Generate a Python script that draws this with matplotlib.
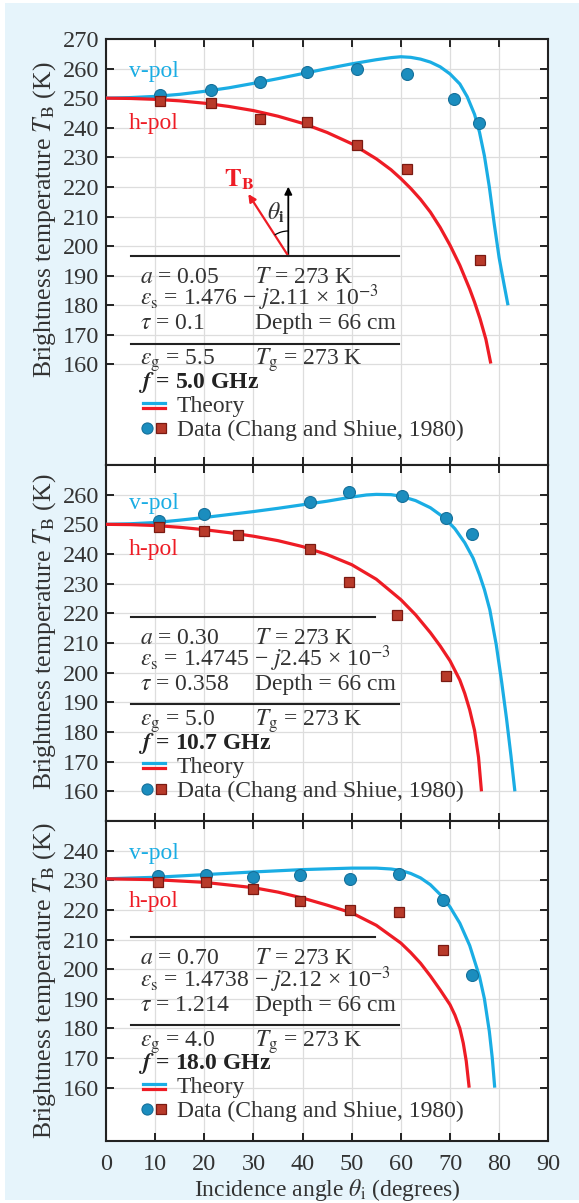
import matplotlib
matplotlib.use("Agg")
import matplotlib.pyplot as plt
from matplotlib.patches import Rectangle, Arc, FancyArrowPatch
from matplotlib.lines import Line2D
from matplotlib.transforms import IdentityTransform

plt.rcParams['font.family'] = ['Liberation Serif', 'DejaVu Serif']
plt.rcParams['mathtext.fontset'] = 'stix'

# ---------------- data ----------------
angle_ticks = [0, 10, 20, 30, 40, 50, 60, 70, 80, 90]

# 5.0 GHz
top_v_angle = [10.9, 21.3, 31.3, 41.0, 51.0, 61.2, 70.8, 76.0]
top_v_tb = [251.1, 252.8, 255.6, 258.8, 259.9, 258.2, 249.7, 241.6]
top_h_angle = [10.9, 21.3, 31.3, 41.0, 51.0, 61.2, 76.1]
top_h_tb = [249.2, 248.3, 242.9, 241.9, 234.3, 226.1, 195.2]
top_vth_angle = [0, 5, 10, 15, 20, 25, 30, 35, 40, 45, 50, 55, 58, 60, 62, 64, 66, 68, 70, 72, 73.5, 75, 76, 77, 78, 79, 80, 81, 81.8]
top_vth_tb = [250.0, 250.2, 250.6, 251.3, 252.3, 253.5, 255.0, 256.6, 258.3, 260.0, 261.6, 263.0, 263.7, 264.0, 263.8, 263.2, 262.2, 260.6, 258.2, 254.8, 250.5, 244.5, 238.5, 230.5, 220.0, 207.5, 196.0, 187.0, 180.0]
top_hth_angle = [0, 5, 10, 15, 20, 25, 30, 35, 40, 45, 50, 55, 58, 60, 62, 64, 66, 68, 70, 72, 74, 75, 76.1, 77.3, 78.3]
top_hth_tb = [250.0, 249.9, 249.6, 249.1, 248.3, 247.2, 245.8, 243.9, 241.5, 238.4, 234.6, 229.5, 225.8, 222.8, 219.5, 215.8, 211.5, 206.3, 200.3, 193.5, 185.5, 181.0, 175.5, 168.5, 160.3]

# 10.7 GHz
mid_v_angle = [10.8, 20.0, 41.5, 49.5, 60.3, 69.1, 74.5]
mid_v_tb = [251.0, 253.6, 257.6, 260.8, 259.4, 252.0, 246.9]
mid_h_angle = [10.8, 20.0, 26.9, 41.5, 49.5, 59.3, 69.1]
mid_h_tb = [249.1, 247.9, 246.5, 241.7, 230.4, 219.6, 198.8]
mid_vth_angle = [0, 5, 10, 15, 20, 25, 30, 35, 40, 45, 50, 53, 55, 58, 60, 63, 66, 69, 71, 73, 74.7, 76, 77, 78.1, 79.4, 80.5, 81.5, 82.4, 83.2]
mid_vth_tb = [250.0, 250.2, 250.6, 251.4, 252.3, 253.3, 254.3, 255.4, 256.6, 257.8, 259.2, 259.9, 260.1, 260.0, 259.5, 258.0, 255.6, 252.0, 248.5, 243.8, 238.6, 233.0, 228.0, 221.2, 209.5, 197.0, 184.5, 172.0, 160.0]
mid_hth_angle = [0, 5, 10, 15, 20, 25, 30, 35, 40, 45, 50, 55, 60, 63, 66, 68, 70, 72, 73, 74, 75, 75.8, 76.4]
mid_hth_tb = [250.0, 249.9, 249.6, 249.0, 248.2, 247.2, 246.0, 244.5, 242.5, 239.8, 236.4, 231.5, 224.6, 219.5, 213.5, 209.0, 204.0, 197.5, 193.0, 187.5, 180.5, 171.5, 160.0]

# 18.0 GHz
bot_v_angle = [10.6, 20.3, 30.0, 39.5, 49.6, 59.7, 68.6, 74.5]
bot_v_tb = [231.3, 231.8, 231.1, 231.8, 230.4, 232.2, 223.2, 197.9]
bot_h_angle = [10.6, 20.3, 30.0, 39.5, 49.6, 59.7, 68.6]
bot_h_tb = [229.5, 229.3, 227.2, 222.9, 220.1, 219.3, 206.4]
bot_vth_angle = [0, 10, 20, 30, 40, 50, 55, 58, 60, 62, 64, 66, 68, 70, 72, 74, 76, 77, 78, 78.6, 79.1]
bot_vth_tb = [230.5, 231.0, 231.9, 232.8, 233.6, 234.1, 234.1, 233.8, 233.3, 232.3, 230.8, 228.5, 225.2, 221.0, 215.5, 208.0, 197.5, 190.0, 179.0, 170.0, 160.0]
bot_hth_angle = [0, 10, 20, 30, 35, 40, 45, 50, 55, 60, 62, 64, 66, 68, 70, 71, 72, 72.7, 73.3, 73.9]
bot_hth_tb = [230.5, 230.2, 229.3, 227.5, 226.0, 224.0, 221.6, 219.0, 214.8, 208.8, 205.6, 202.0, 197.7, 193.0, 188.0, 184.5, 180.0, 175.0, 169.0, 160.0]

panel_ylims = [(126, 270), (150, 270), (142, 250)]
panel_yticks = [list(range(160, 271, 10)), list(range(160, 261, 10)), list(range(160, 241, 10))]

param_rows = [
    [r"$a$ = 0.05", r"$T$ = 273 K", r"$\varepsilon_\mathrm{s}$ = 1.476 − $j$2.11 × 10$^{-3}$",
     r"$\tau$ = 0.1", "Depth = 66 cm", r"$\varepsilon_\mathrm{g}$ = 5.5", r"$T_\mathrm{g}$ = 273 K", "5.0 GHz"],
    [r"$a$ = 0.30", r"$T$ = 273 K", r"$\varepsilon_\mathrm{s}$ = 1.4745 − $j$2.45 × 10$^{-3}$",
     r"$\tau$ = 0.358", "Depth = 66 cm", r"$\varepsilon_\mathrm{g}$ = 5.0", r"$T_\mathrm{g}$ = 273 K", "10.7 GHz"],
    [r"$a$ = 0.70", r"$T$ = 273 K", r"$\varepsilon_\mathrm{s}$ = 1.4738 − $j$2.12 × 10$^{-3}$",
     r"$\tau$ = 1.214", "Depth = 66 cm", r"$\varepsilon_\mathrm{g}$ = 4.0", r"$T_\mathrm{g}$ = 273 K", "18.0 GHz"],
]

# ---------------- style ----------------
W, H = 579, 1203
CYAN = '#1aade4'
RED = '#ee1c25'
CIRC = '#1b8dbe'
CIRC_E = '#15709a'
SQ = '#b83a2a'
SQ_E = '#7a1a12'
BG = '#e6f4fb'
INK = '#222222'
FS = 17

fig = plt.figure(figsize=(W / 100, H / 100), dpi=100, facecolor='white')
fig.patches.append(Rectangle((5 / W, 1 - 1200 / H), (579 - 5) / W, (1200 - 3) / H,
                             transform=fig.transFigure, facecolor=BG, edgecolor='none', zorder=-10))


def fx(x):
    return x / W


def fy(y):
    return 1 - y / H


bounds = [(39, 465), (465, 821), (821, 1141)]
left_px, right_px = 106, 548.3

panels = [
    (top_v_angle, top_v_tb, top_h_angle, top_h_tb, top_vth_angle, top_vth_tb, top_hth_angle, top_hth_tb),
    (mid_v_angle, mid_v_tb, mid_h_angle, mid_h_tb, mid_vth_angle, mid_vth_tb, mid_hth_angle, mid_hth_tb),
    (bot_v_angle, bot_v_tb, bot_h_angle, bot_h_tb, bot_vth_angle, bot_vth_tb, bot_hth_angle, bot_hth_tb),
]

axes = []
for i, (t, b) in enumerate(bounds):
    ax = fig.add_axes([fx(left_px), fy(b), (right_px - left_px) / W, (b - t) / H])
    ax.set_facecolor('white')
    va, vt, ha, ht, vta, vtt, hta, htt = panels[i]
    ax.plot(vta, vtt, color=CYAN, lw=2.3, solid_capstyle='butt', solid_joinstyle='round', zorder=3)
    ax.plot(hta, htt, color=RED, lw=2.3, solid_capstyle='butt', solid_joinstyle='round', zorder=3)
    ax.plot(va, vt, 'o', ms=8.6, mfc=CIRC, mec=CIRC_E, mew=0.8, zorder=4)
    ax.plot(ha, ht, 's', ms=7.2, mfc=SQ, mec=SQ_E, mew=0.9, zorder=4)
    ax.set_xlim(0, 90)
    ax.set_ylim(*panel_ylims[i])
    ax.set_xticks(angle_ticks)
    ax.set_yticks(panel_yticks[i])
    ax.grid(True, color='#dddddd', lw=0.9, zorder=0)
    ax.set_axisbelow(True)
    ax.tick_params(direction='in', top=True, right=True, length=5.5, width=1.4,
                   color=INK, labelsize=FS + 0.5, labelcolor='#333333', pad=5)
    ax.tick_params(axis='x', pad=9)
    if i < 2:
        ax.tick_params(labelbottom=False)
    for s in ax.spines.values():
        s.set_linewidth(1.5)
        s.set_color(INK)
    axes.append(ax)

axes[2].set_xlabel(r"Incidence angle $\theta_\mathrm{i}$ (degrees)", fontsize=FS, color='#333333', labelpad=2)

# y labels
ylab_centers = [220, 632, 981]
for yc in ylab_centers:
    fig.text(fx(45), fy(yc), r"Brightness temperature $T_\mathrm{B}$ (K)", rotation=90,
             ha='center', va='center', fontsize=FS + 1.5, color='#333333')

# pol labels
pol_y = [(71, 123), (503, 549), (853, 901)]
for yv, yh in pol_y:
    fig.text(fx(129), fy(yv), "v-pol", color=CYAN, fontsize=FS, va='center', ha='left')
    fig.text(fx(129), fy(yh), "h-pol", color=RED, fontsize=FS, va='center', ha='left')

# parameter blocks
bases = [256, 616.7, 937.3]
line1_right = [399, 375, 375]
for i, base in enumerate(bases):
    rows = param_rows[i]
    fig.add_artist(Line2D([fx(131), fx(line1_right[i])], [fy(base), fy(base)],
                          transform=fig.transFigure, color=INK, lw=1.5))
    fig.add_artist(Line2D([fx(131), fx(399)], [fy(base + 87.5), fy(base + 87.5)],
                          transform=fig.transFigure, color=INK, lw=1.5))
    off = 7
    kw = dict(fontsize=FS, color='#333333', va='baseline', ha='left')
    fig.text(fx(140), fy(base + 20 + off), rows[0], **kw)
    fig.text(fx(255), fy(base + 20 + off), rows[1], **kw)
    fig.text(fx(140), fy(base + 42.5 + off), rows[2], **kw)
    fig.text(fx(140), fy(base + 66.5 + off), rows[3], **kw)
    fig.text(fx(255), fy(base + 66.5 + off), rows[4], **kw)
    fig.text(fx(140), fy(base + 102 + off), rows[5], **kw)
    fig.text(fx(255), fy(base + 102 + off), rows[6], **kw)
    fig.text(fx(138), fy(base + 125 + off), r"$\mathbfit{f}$ = " + rows[7], fontsize=FS,
             color='#222222', va='baseline', ha='left', fontweight='bold')
    fig.text(fx(177), fy(base + 149 + off), "Theory", **kw)
    fig.text(fx(177), fy(base + 173 + off), "Data (Chang and Shiue, 1980)", **kw)
    # legend handles
    fig.add_artist(Line2D([fx(143), fx(165)], [fy(base + 146.5), fy(base + 146.5)],
                          transform=fig.transFigure, color=CYAN, lw=2.3))
    fig.add_artist(Line2D([fx(143), fx(165)], [fy(base + 151.5), fy(base + 151.5)],
                          transform=fig.transFigure, color=RED, lw=2.3))
    fig.add_artist(Line2D([fx(147)], [fy(base + 172)], transform=fig.transFigure, marker='o',
                          ms=8.0, mfc=CIRC, mec=CIRC_E, mew=0.8, ls='none'))
    fig.add_artist(Line2D([fx(160.7)], [fy(base + 172)], transform=fig.transFigure, marker='s',
                          ms=7.0, mfc=SQ, mec=SQ_E, mew=0.9, ls='none'))

# incidence diagram (top panel)
ox, oy = 288.3, 256
fig.add_artist(FancyArrowPatch((fx(ox), fy(oy)), (fx(ox), fy(186.7)), transform=fig.transFigure,
                               arrowstyle='-|>', mutation_scale=11, color='black', lw=1.3,
                               shrinkA=0, shrinkB=0))
fig.add_artist(FancyArrowPatch((fx(ox), fy(oy)), (fx(248.3), fy(194)), transform=fig.transFigure,
                               arrowstyle='-|>', mutation_scale=11, color=RED, lw=1.6,
                               shrinkA=0, shrinkB=0))
fig.add_artist(Arc((ox, H - oy), 50, 50, theta1=90, theta2=123, transform=IdentityTransform(),
                   color='black', lw=0.9))
fig.text(fx(224), fy(180), r"$\mathbf{T_B}$", color=RED, fontsize=FS + 1, va='center', ha='left')
fig.text(fx(267), fy(213), r"$\theta_\mathbf{i}$", color='#333333', fontsize=FS, va='center', ha='left')

fig.savefig("out.png", dpi=100, facecolor='white')
